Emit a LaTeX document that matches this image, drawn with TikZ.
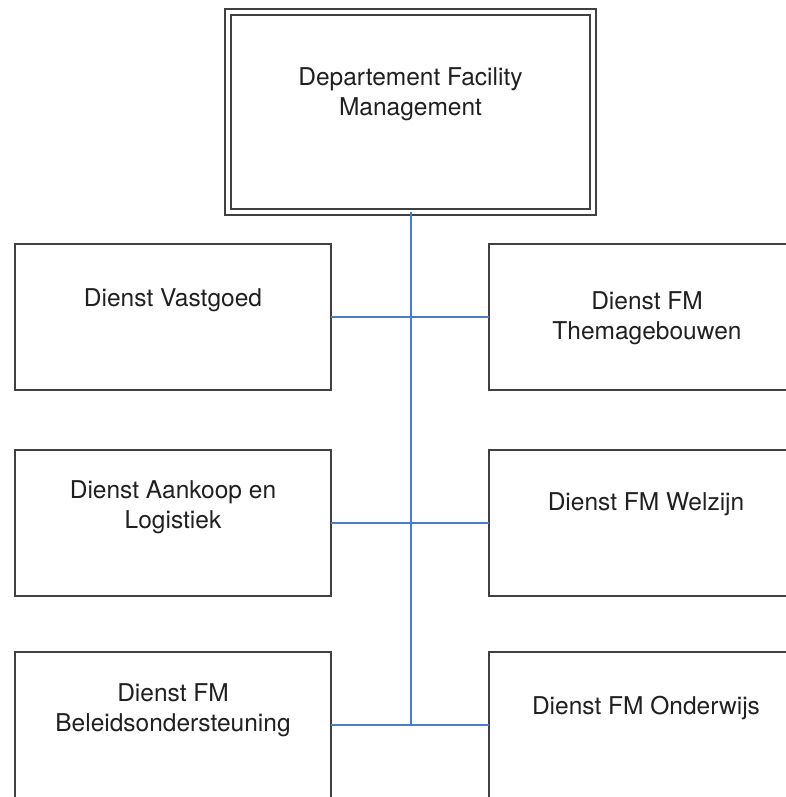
\documentclass[tikz,border=0pt]{standalone}
\usepackage{fontspec}
\setmainfont{TeX Gyre Heros}
\definecolor{boxgray}{HTML}{404040}
\definecolor{textgray}{HTML}{202020}
\definecolor{connblue}{HTML}{4A7CC9}
\begin{document}
\begin{tikzpicture}[x=1pt,y=-1pt,
  box/.style={draw=boxgray, line width=2.2pt, minimum width=316pt, minimum height=146pt, inner sep=0pt, outer sep=0pt, anchor=north west},
  topbox/.style={draw=boxgray, double=white, double distance=3.6pt, line width=2pt, minimum width=365pt, minimum height=200pt, inner sep=0pt, outer sep=0pt},
  lbl/.style={font=\fontsize{24.5}{30}\selectfont, align=center, text=textgray, inner sep=0pt},
  conn/.style={draw=connblue, line width=2pt}]
\useasboundingbox (0,0) rectangle (786,797);
\clip (0,0) rectangle (786,797);
\fill[white] (0,0) rectangle (786,797);
% boxes
\node[topbox] (top) at (410.5,112) {};
\node[box] (L1) at (15,244) {};
\node[box] (R1) at (489,244) {};
\node[box] (L2) at (15,450) {};
\node[box] (R2) at (489,450) {};
\node[box] (L3) at (15,652) {};
\node[box] (R3) at (489,652) {};
% connectors
\coordinate (vend) at (top.south |- L3.east);
\draw[conn] (top.south) -- (vend);
\draw[conn] (L1.east) -- (R1.west);
\draw[conn] (L2.east) -- (R2.west);
\draw[conn] (L3.east) -- (R3.west);
% labels
\node[lbl] (ttop) at (410.5,94) {Departement Facility\\Management};
\node[lbl] (tL1) at (173,300) {Dienst Vastgoed};
\node[lbl] (tR1) at (647,318) {Dienst FM\\Themagebouwen};
\node[lbl] (tL2) at (173,507) {Dienst Aankoop en\\Logistiek};
\node[lbl] (tR2) at (646,504) {Dienst FM Welzijn};
\node[lbl] (tL3) at (173,710) {Dienst FM\\Beleidsondersteuning};
\node[lbl] (tR3) at (646,708) {Dienst FM Onderwijs};
\end{tikzpicture}
\end{document}
